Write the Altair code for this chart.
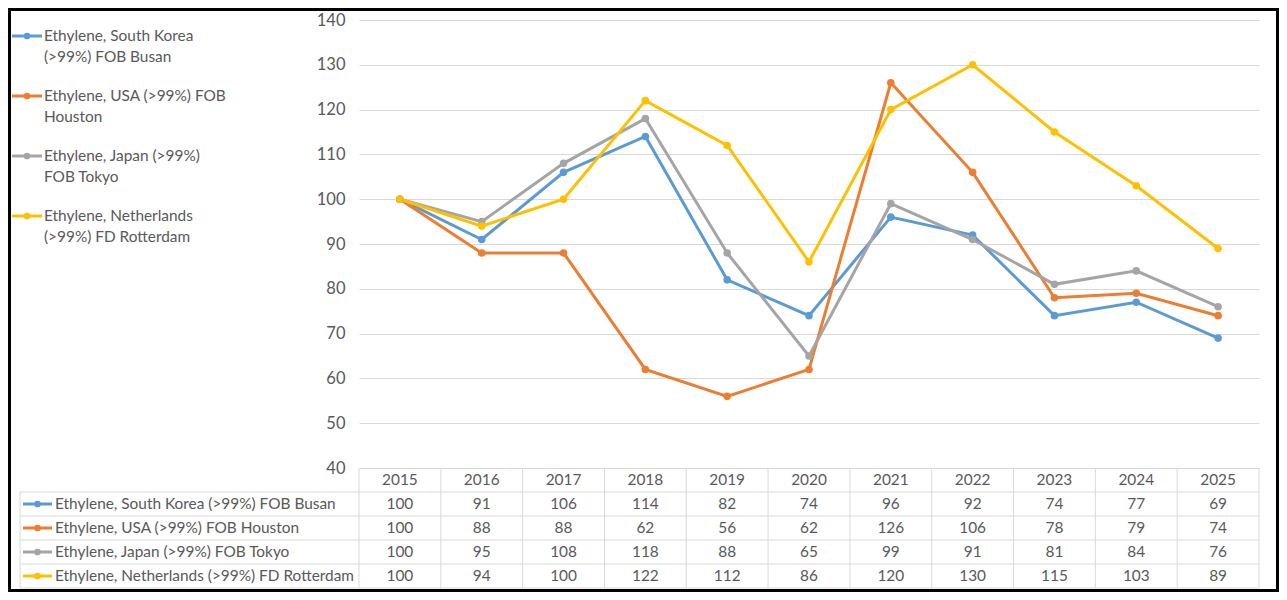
import altair as alt
import pandas as pd

# ---------------- data ----------------
years = [2015, 2016, 2017, 2018, 2019, 2020, 2021, 2022, 2023, 2024, 2025]
series_names = [
    "Ethylene, South Korea (>99%) FOB Busan",
    "Ethylene, USA (>99%) FOB Houston",
    "Ethylene, Japan (>99%) FOB Tokyo",
    "Ethylene, Netherlands (>99%) FD Rotterdam",
]
legend_line1 = ["Ethylene, South Korea", "Ethylene, USA (>99%) FOB",
                "Ethylene, Japan (>99%)", "Ethylene, Netherlands"]
legend_line2 = ["(>99%) FOB Busan", "Houston", "FOB Tokyo", "(>99%) FD Rotterdam"]
korea = [100, 91, 106, 114, 82, 74, 96, 92, 74, 77, 69]
usa = [100, 88, 88, 62, 56, 62, 126, 106, 78, 79, 74]
japan = [100, 95, 108, 118, 88, 65, 99, 91, 81, 84, 76]
netherlands = [100, 94, 100, 122, 112, 86, 120, 130, 115, 103, 89]
colors = ["#5B9BD5", "#ED7D31", "#A5A5A5", "#FFC000"]
y_ticks = [40, 50, 60, 70, 80, 90, 100, 110, 120, 130, 140]

FONT = "Lato"
FS = 15.4
TXT = "#595959"
GRID = "#d9d9d9"

rows = []
for i, (name, vals, col) in enumerate(zip(series_names, [korea, usa, japan, netherlands], colors)):
    for yr, v in zip(years, vals):
        rows.append({"series": name, "year": yr, "value": v, "hex": col, "t": i + 1.5})
df = pd.DataFrame(rows)

series_df = pd.DataFrame({
    "series": series_names, "hex": colors, "line1": legend_line1, "line2": legend_line2,
    "li": list(range(len(series_names))), "t": [i + 1.5 for i in range(len(series_names))],
})
header_df = pd.DataFrame({"year": years, "t": [0.5] * len(years)})
bounds = [yr - 0.5 for yr in years] + [years[-1] + 0.5]
half_ticks = sorted(set(bounds + years))
vlines_df = pd.DataFrame({"xb": bounds, "t0": [0] * len(bounds), "t1": [5] * len(bounds)})
hlines_df = pd.DataFrame({"t": [1, 2, 3, 4, 5]})
left_df = pd.DataFrame({"t0": [1], "t1": [5]})
one_df = pd.DataFrame({"a": [0]})

# plot area: 900 x 448, table rows of 24 px below it
H = 448

def xs():
    return alt.Scale(domain=[bounds[0], bounds[-1]], nice=False, zero=False)

def tbl():
    return alt.Scale(domain=[0, 5], range=[H, H + 120], nice=False, zero=False)

def legs():
    return alt.Scale(domain=[0, 3], range=[16, 196], nice=False, zero=False)

color_scale = alt.Scale(domain=series_names, range=colors)

# ---------------- layers ----------------
border = alt.Chart(one_df).mark_rect(fill="transparent", stroke="black", strokeWidth=3).encode(
    x=alt.value(-349.5), x2=alt.value(918.5), y=alt.value(-10.5), y2=alt.value(H + 122.5)
)

hlines = alt.Chart(hlines_df).mark_rule(color=GRID, strokeWidth=1).encode(
    x=alt.value(-339), x2=alt.value(900),
    y=alt.Y("t:Q", scale=tbl(), axis=None),
)
vlines = alt.Chart(vlines_df).mark_rule(color=GRID, strokeWidth=1).encode(
    x=alt.X("xb:Q", scale=xs(), axis=None),
    y=alt.Y("t0:Q", scale=tbl(), axis=None), y2="t1:Q",
)
leftline = alt.Chart(left_df).mark_rule(color=GRID, strokeWidth=1).encode(
    x=alt.value(-339),
    y=alt.Y("t0:Q", scale=tbl(), axis=None), y2="t1:Q",
)

lines = alt.Chart(df).mark_line(
    strokeWidth=3, point=alt.OverlayMarkDef(filled=True, size=58)
).encode(
    x=alt.X("year:Q", scale=xs(), axis=alt.Axis(
        values=half_ticks, labels=False, ticks=False, domain=False, grid=True,
        gridColor="#eeeeee", gridWidth=1, title=None)),
    y=alt.Y("value:Q", scale=alt.Scale(domain=[40, 140], nice=False, zero=False),
            axis=alt.Axis(values=y_ticks, grid=True, gridColor=GRID, gridWidth=1,
                          domain=False, ticks=False, labelPadding=14,
                          labelFont=FONT, labelFontSize=16.5, labelColor=TXT, title=None)),
    color=alt.Color("series:N", scale=color_scale, legend=None),
    order=alt.Order("year:Q"),
)

header = alt.Chart(header_df).mark_text(font=FONT, fontSize=FS, color=TXT).encode(
    x=alt.X("year:Q", scale=xs(), axis=None),
    y=alt.Y("t:Q", scale=tbl(), axis=None),
    text=alt.Text("year:Q", format="d"),
)
values = alt.Chart(df).mark_text(font=FONT, fontSize=FS, color=TXT).encode(
    x=alt.X("year:Q", scale=xs(), axis=None),
    y=alt.Y("t:Q", scale=tbl(), axis=None),
    text=alt.Text("value:Q", format="d"),
)
row_labels = alt.Chart(series_df).mark_text(font=FONT, fontSize=FS, color=TXT, align="left").encode(
    x=alt.value(-304),
    y=alt.Y("t:Q", scale=tbl(), axis=None),
    text="series:N",
)
row_keys = alt.Chart(series_df).mark_rule(strokeWidth=3).encode(
    x=alt.value(-336), x2=alt.value(-307),
    y=alt.Y("t:Q", scale=tbl(), axis=None),
    color=alt.Color("hex:N", scale=None),
)
row_dots = alt.Chart(series_df).mark_point(filled=True, size=45, opacity=1).encode(
    x=alt.value(-321.5),
    y=alt.Y("t:Q", scale=tbl(), axis=None),
    color=alt.Color("hex:N", scale=None),
)

leg_keys = alt.Chart(series_df).mark_rule(strokeWidth=3).encode(
    x=alt.value(-347), x2=alt.value(-317),
    y=alt.Y("li:Q", scale=legs(), axis=None),
    color=alt.Color("hex:N", scale=None),
)
leg_dots = alt.Chart(series_df).mark_point(filled=True, size=45, opacity=1).encode(
    x=alt.value(-332),
    y=alt.Y("li:Q", scale=legs(), axis=None),
    color=alt.Color("hex:N", scale=None),
)
leg_t1 = alt.Chart(series_df).mark_text(font=FONT, fontSize=FS, color=TXT, align="left").encode(
    x=alt.value(-315),
    y=alt.Y("li:Q", scale=legs(), axis=None),
    text="line1:N",
)
leg_t2 = alt.Chart(series_df).mark_text(font=FONT, fontSize=FS, color=TXT, align="left", dy=21).encode(
    x=alt.value(-315),
    y=alt.Y("li:Q", scale=legs(), axis=None),
    text="line2:N",
)

chart = alt.layer(
    border, hlines, vlines, leftline, lines, header, values,
    row_labels, row_keys, row_dots, leg_keys, leg_dots, leg_t1, leg_t2,
).resolve_scale(y="independent").properties(
    width=900, height=H,
    autosize=alt.AutoSizeParams(type="none"),
    padding={"left": 351, "top": 12, "right": 20, "bottom": 124},
    background="white",
).configure_view(stroke=None)

chart.save("out.html", embed_options={"renderer": "svg", "actions": False})
